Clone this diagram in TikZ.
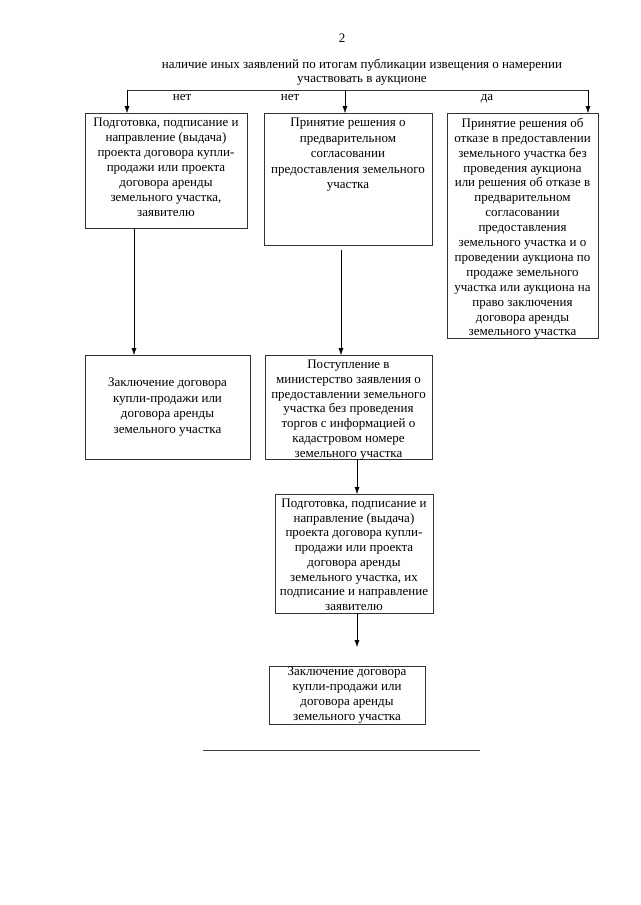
\documentclass[tikz,border=0pt]{standalone}
\usepackage{fontspec}
\setmainfont{Liberation Serif}
\usetikzlibrary{arrows.meta,calc}

\tikzset{
  blk/.style={draw=black!80,thin,anchor=north west,inner sep=0pt,outer sep=0pt},
  lbl/.style={font=\fontsize{13}{14}\selectfont,inner sep=0pt},
  con/.style={draw=black,thin,-{Latex[length=7pt,width=5pt]}}
}
\newcommand{\blktext}[5]{\parbox[c][#2pt][#3]{#1pt}{\centering\fontsize{13}{#4}\selectfont\ifx t#3\vspace{5pt}\fi #5\par}}

\begin{document}
\begin{tikzpicture}[x=1pt,y=-1pt]
\useasboundingbox (0,0) rectangle (640,905);
%
% page number and condition
\node[lbl] (pg) at (342,38) {2};
\node[lbl,align=center] (cond) at (362,72) {наличие иных заявлений по итогам публикации извещения о намерении\\участвовать в аукционе};
%
% first row
\node[blk] (a1) at (85,113) {\blktext{162}{115}{t}{15}{Подготовка, подписание и\\направление (выдача)\\проекта договора купли-\\продажи или проекта\\договора аренды\\земельного участка,\\заявителю}};
\node[blk] (a2) at (264,113) {\blktext{168}{132}{t}{15.5}{Принятие решения о\\предварительном\\согласовании\\предоставления земельного\\участка}};
\node[blk] (a3) at (447,113) {\blktext{151}{225}{t}{14.9}{Принятие решения об\\отказе в предоставлении\\земельного участка без\\проведения аукциона\\или решения об отказе в\\предварительном\\согласовании\\предоставления\\земельного участка и о\\проведении аукциона по\\продаже земельного\\участка или аукциона на\\право заключения\\договора аренды\\земельного участка}};
%
% second row
\node[blk] (b1) at (85,355) {\blktext{165}{104}{c}{15.7}{Заключение договора\\купли-продажи или\\договора аренды\\земельного участка}};
\node[blk] (b2) at (265,355) {\blktext{167}{104}{t}{14.8}{Поступление в\\министерство заявления о\\предоставлении земельного\\участка без проведения\\торгов с информацией о\\кадастровом номере\\земельного участка}};
%
% third and fourth row
\node[blk] (c2) at (275,494) {\blktext{158}{119}{t}{14.7}{Подготовка, подписание и\\направление (выдача)\\проекта договора купли-\\продажи или проекта\\договора аренды\\земельного участка, их\\подписание и направление\\заявителю}};
\node[blk] (d2) at (269,666) {\blktext{156}{58}{c}{15}{Заключение договора\\купли-продажи или\\договора аренды\\земельного участка}};
%
% branching line
\coordinate (fl) at (127,90);
\coordinate (fm) at (345,90);
\coordinate (fr) at (588,90);
\draw[black!80,thin] (fl) -- (fr);
\draw[con] (fl) -- (fl |- a1.north);
\draw[con] (fm) -- (fm |- a2.north);
\draw[con] (fr) -- (fr |- a3.north);
\node[lbl,anchor=base] (no1) at (182,100) {нет};
\node[lbl,anchor=base] (no2) at (290,100) {нет};
\node[lbl,anchor=base] (yes) at (487,100) {да};
%
% vertical connectors
\coordinate (k1) at (134,0);
\coordinate (k2) at (341,0);
\coordinate (k3) at (357,0);
\draw[con] (a1.south -| k1) -- (b1.north -| k1);
\draw[con] ($(a2.south -| k2)+(0,5)$) -- (b2.north -| k2);
\draw[con] (b2.south -| k3) -- (c2.north -| k3);
\draw[con] (c2.south -| k3) -- ($(d2.north -| k3)+(0,-19)$);
%
% closing rule
\coordinate (rl) at (203,750);
\coordinate (rr) at (480,750);
\draw[black!75,thin] (rl) -- (rr);
\end{tikzpicture}
\end{document}
